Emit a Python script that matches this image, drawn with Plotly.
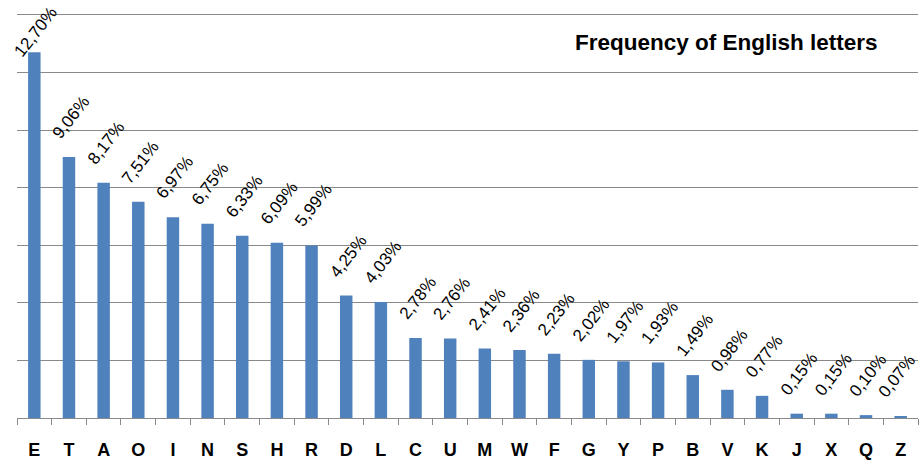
import plotly.graph_objects as go

letters = ["E", "T", "A", "O", "I", "N", "S", "H", "R", "D", "L", "C", "U",
           "M", "W", "F", "G", "Y", "P", "B", "V", "K", "J", "X", "Q", "Z"]
freq = [12.70, 9.06, 8.17, 7.51, 6.97, 6.75, 6.33, 6.09, 5.99, 4.25, 4.03,
        2.78, 2.76, 2.41, 2.36, 2.23, 2.02, 1.97, 1.93, 1.49, 0.98, 0.77,
        0.15, 0.15, 0.10, 0.07]
title_text = "Frequency of English letters"

labels = [f"{v:.2f}".replace(".", ",") + "%" for v in freq]

FONT = "Liberation Sans, Arial, sans-serif"

fig = go.Figure()
fig.add_trace(go.Bar(x=letters, y=freq, marker=dict(color="#4F81BD",
                     line=dict(width=0)), hoverinfo="skip"))

n = len(letters)
for i, (x, v, t) in enumerate(zip(letters, freq, labels)):
    shift = -11 if v > 12 else 12
    fig.add_annotation(x=x, y=v, text=t, showarrow=False, textangle=-52,
                       xanchor="center", yanchor="bottom", yshift=shift,
                       xshift=(-4 if i == n - 1 else 2),
                       font=dict(family=FONT, size=17, color="#000000"))

fig.add_annotation(x=0.787, y=0.926, xref="paper", yref="paper", text="<b>" + title_text + "</b>",
                   showarrow=False, xanchor="center", yanchor="middle",
                   font=dict(family=FONT, size=22.5, color="#000000"))

fig.update_layout(
    width=920, height=462,
    margin=dict(l=17, r=2, t=12, b=44, autoexpand=False),
    paper_bgcolor="white", plot_bgcolor="white",
    bargap=0.64, showlegend=False,
    xaxis=dict(range=[-0.5, n - 0.5], showline=True, linecolor="#898989",
               linewidth=1.3, ticks="outside",
               tickson="boundaries", ticklen=6, tickcolor="#898989", tickwidth=1.3,
               ticklabelstandoff=15, automargin=False,
               tickfont=dict(family=FONT, size=18, color="#000000", weight="bold"),
               showgrid=False),
    yaxis=dict(range=[0, 14.1], dtick=2, showgrid=True, gridcolor="#898989", gridwidth=1.3,
               showticklabels=False, zeroline=False, showline=False, automargin=False),
)

fig.write_html("out.html", config={"displayModeBar": False},
               post_script="document.body.style.margin='0';")
